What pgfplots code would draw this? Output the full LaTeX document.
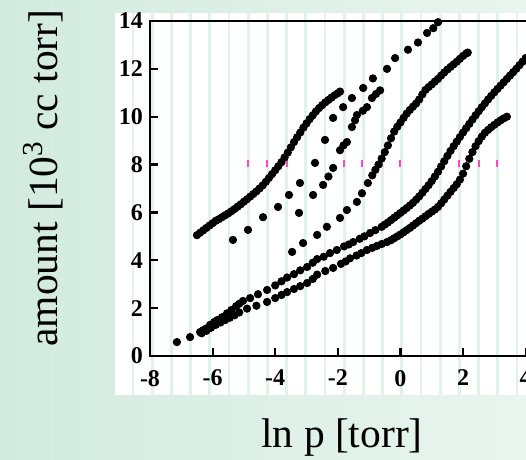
\documentclass[border=0pt]{standalone}
\usepackage{pgfplots}
\pgfplotsset{compat=1.18}
\usepackage{fontspec}
\setmainfont{Liberation Serif}
\definecolor{bgL}{RGB}{210,235,223}
\definecolor{bgR}{RGB}{233,245,239}
\definecolor{stripe}{RGB}{224,242,234}
\definecolor{pinkm}{RGB}{255,70,200}
\pgfplotsset{pt/.style={black, mark=*, mark size=1.85pt, only marks, mark options={fill=black, draw=black}}}
\begin{document}
\begin{tikzpicture}
\useasboundingbox (0,0) rectangle (263pt,230pt);
\shade[left color=bgL, right color=bgR] (0,0) rectangle (263pt,230pt);
\fill[white] (57.5pt,32.5pt) rectangle (263pt,223.5pt);
\foreach \i in {0,...,20} {
  \draw[stripe, line width=1.4pt] ({(133+19.2*\i)*0.5pt},32.5pt) -- ({(133+19.2*\i)*0.5pt},223.5pt);
}
\foreach \px in {248,267,287,344,362,382,400,442,459,479,497} {
  \draw[pinkm, line width=1pt] ({\px*0.5pt},146.5pt) -- ({\px*0.5pt},150pt);
}
\begin{axis}[
  at={(75pt,52pt)}, anchor=south west,
  scale only axis, width=189.4pt, height=167.5pt,
  xmin=-8, xmax=4.1, ymin=0, ymax=14,
  xtick={-8,-6,...,4}, ytick={0,2,...,14},
  xtick pos=bottom, ytick pos=left,
  tick align=inside, major tick length=4pt,
  axis line style={line width=1.2pt},
  every tick/.style={black, line width=1.1pt},
  /pgf/number format/assume math mode=true,
  ticklabel style={font=\fontsize{12}{13}\selectfont\bfseries},
  xticklabel style={yshift=-3.5pt},
  xlabel={ln p [torr]},
  ylabel={amount [10\textsuperscript{3} cc torr]},
  label style={font=\fontsize{20.75}{24}\selectfont},
  xlabel style={at={(axis description cs:0.507,-0.2746)}, anchor=base},
  ylabel style={at={(axis description cs:-0.2825,0.531)}, anchor=center, rotate=0},
]
% A
\addplot[pt] coordinates {
(-6.50,5.05)(-6.40,5.15)(-6.30,5.25)(-6.20,5.35)(-6.10,5.45)(-6.00,5.55)(-5.90,5.65)(-5.80,5.72)(-5.70,5.80)(-5.60,5.88)(-5.50,5.96)(-5.40,6.05)(-5.30,6.14)(-5.20,6.24)(-5.10,6.34)(-5.00,6.45)(-4.90,6.55)(-4.80,6.66)(-4.70,6.77)(-4.60,6.88)(-4.50,7.00)(-4.40,7.13)(-4.30,7.28)(-4.20,7.44)(-4.10,7.60)(-4.00,7.76)(-3.90,7.93)(-3.80,8.10)(-3.70,8.30)(-3.60,8.50)(-3.50,8.72)(-3.40,8.94)(-3.30,9.14)(-3.20,9.34)(-3.10,9.54)(-3.00,9.72)(-2.90,9.90)(-2.80,10.06)(-2.70,10.22)(-2.60,10.36)(-2.50,10.48)(-2.40,10.60)(-2.30,10.70)(-2.20,10.80)(-2.10,10.90)(-2.00,10.98)(-1.93,11.05)
};
% B
\addplot[pt] coordinates {
(-5.35,4.85)(-4.87,5.27)(-4.39,5.80)(-3.91,6.23)(-3.56,6.73)(-3.21,7.23)(-2.73,8.07)(-2.41,9.03)(-2.15,9.95)(-1.83,10.40)(-1.55,10.78)(-1.19,11.20)(-0.88,11.60)(-0.43,12.00)(-0.17,12.45)(0.24,12.80)(0.56,13.10)(0.85,13.50)(1.05,13.70)(1.20,13.95)
};
% C
\addplot[pt] coordinates {
(-3.24,5.98)(-2.79,6.73)(-2.47,7.15)(-2.30,7.50)(-2.15,7.86)(-1.93,8.60)(-1.82,8.80)(-1.71,8.94)(-1.55,9.57)(-1.45,9.85)(-1.39,10.07)(-1.20,10.25)(-1.07,10.40)(-0.91,10.78)(-0.78,10.95)(-0.65,11.10)
};
% D
\addplot[pt] coordinates {
(-3.46,4.35)(-3.11,4.72)(-2.66,5.06)(-2.35,5.40)(-1.93,5.77)(-1.71,6.10)(-1.39,6.44)(-1.23,6.80)(-1.04,7.23)
(-0.90,7.55)(-0.80,7.78)(-0.70,8.00)(-0.60,8.25)(-0.50,8.52)(-0.40,8.80)(-0.30,9.10)(-0.20,9.38)(-0.10,9.58)(0.00,9.76)(0.10,9.95)(0.20,10.13)(0.30,10.28)(0.40,10.42)(0.50,10.55)(0.60,10.72)(0.70,10.93)(0.80,11.12)(0.90,11.24)(1.00,11.35)(1.10,11.47)(1.20,11.58)(1.30,11.72)(1.40,11.85)(1.50,11.97)(1.60,12.08)(1.70,12.19)(1.80,12.30)(1.90,12.42)(2.00,12.54)(2.10,12.64)(2.15,12.68)
};
% E
\addplot[pt] coordinates {
(-7.14,0.58)(-6.72,0.79)(-6.40,1.00)(-6.30,1.08)(-6.20,1.15)(-6.08,1.30)(-5.95,1.42)(-5.85,1.50)(-5.70,1.62)(-5.54,1.78)(-5.40,1.92)(-5.25,2.08)(-5.15,2.18)
(-5.03,2.30)(-4.80,2.42)(-4.55,2.58)(-4.26,2.76)(-4.00,2.95)(-3.80,3.12)(-3.62,3.28)(-3.40,3.42)(-3.20,3.58)(-2.98,3.72)(-2.80,3.90)(-2.66,4.05)(-2.45,4.15)(-2.25,4.30)(-2.03,4.43)(-1.80,4.58)(-1.65,4.66)(-1.51,4.76)(-1.30,4.90)(-1.15,5.00)(-0.97,5.14)(-0.80,5.26)
(-0.6,5.40)(-0.5,5.49)(-0.4,5.58)(-0.3,5.68)(-0.2,5.78)(-0.1,5.88)(0.0,5.98)(0.1,6.08)(0.2,6.18)(0.3,6.29)(0.4,6.40)(0.5,6.53)(0.6,6.67)(0.7,6.82)(0.8,6.98)(0.9,7.14)(1.0,7.31)(1.1,7.50)(1.2,7.70)(1.3,7.92)(1.4,8.14)(1.5,8.36)(1.6,8.57)(1.7,8.77)(1.8,8.96)(1.9,9.15)(2.0,9.34)(2.1,9.52)(2.2,9.70)(2.3,9.88)(2.4,10.06)(2.5,10.23)(2.6,10.40)(2.7,10.56)(2.8,10.72)(2.9,10.87)(3.0,11.02)(3.1,11.16)(3.2,11.30)(3.3,11.44)(3.4,11.58)(3.5,11.72)(3.6,11.86)(3.7,12.00)(3.8,12.15)(3.9,12.30)(4.0,12.45)
};
% F
\addplot[pt] coordinates {
(-6.35,0.95)(-6.20,1.05)(-6.05,1.18)(-5.90,1.30)(-5.75,1.40)(-5.60,1.50)(-5.45,1.60)(-5.30,1.70)(-5.15,1.82)
(-4.90,1.98)(-4.60,2.10)(-4.26,2.26)(-4.00,2.42)(-3.80,2.55)(-3.62,2.67)(-3.40,2.80)(-3.20,2.92)(-2.98,3.05)(-2.80,3.22)(-2.66,3.40)(-2.40,3.55)(-2.15,3.68)(-1.90,3.85)(-1.75,3.95)(-1.61,4.08)(-1.40,4.20)(-1.25,4.30)(-1.07,4.43)(-0.90,4.52)(-0.75,4.60)(-0.60,4.68)(-0.43,4.76)
(-0.3,4.84)(-0.2,4.92)(-0.1,5.00)(0.0,5.08)(0.1,5.17)(0.2,5.26)(0.3,5.35)(0.4,5.45)(0.5,5.55)(0.6,5.65)(0.7,5.74)(0.8,5.84)(0.9,5.94)(1.0,6.03)(1.1,6.12)(1.2,6.23)(1.3,6.38)(1.4,6.54)(1.5,6.70)(1.6,6.86)(1.7,7.02)(1.8,7.18)(1.9,7.37)(2.0,7.62)(2.1,7.93)(2.2,8.24)(2.3,8.52)(2.4,8.77)(2.5,8.98)(2.6,9.17)(2.7,9.33)(2.8,9.45)(2.9,9.56)(3.0,9.66)(3.1,9.76)(3.2,9.85)(3.3,9.93)(3.4,10.00)
};
\end{axis}
\end{tikzpicture}
\end{document}
